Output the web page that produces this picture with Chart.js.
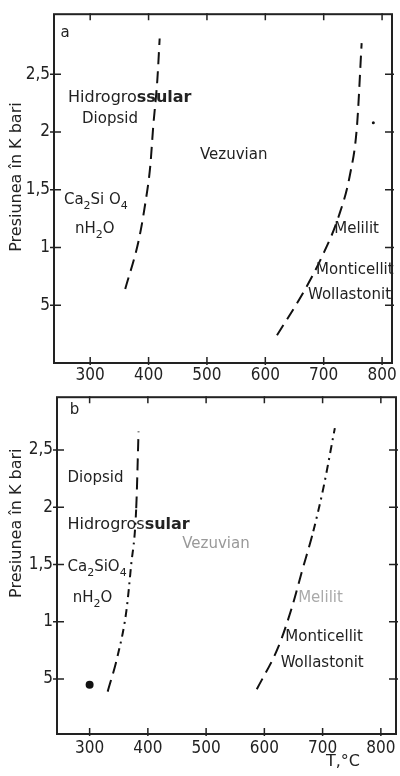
<!DOCTYPE html>
<html>
<head>
<meta charset="utf-8">
<script src="https://cdn.jsdelivr.net/npm/chart.js@4"></script>
<style>
  html, body { margin: 0; padding: 0; background: #fff; }
  #wrapA { position: absolute; left: 0; top: 0; }
  #wrapB { position: absolute; left: 0; top: 383px; }
</style>
</head>
<body>
<div id="wrapA"><canvas id="chartA" width="400" height="383"></canvas></div>
<div id="wrapB"><canvas id="chartB" width="400" height="393"></canvas></div>
<script>
// axis ticks
const xTicks = [300, 400, 500, 600, 700, 800];
const yTicks = [0.5, 1, 1.5, 2, 2.5];
const yTickLabels = ["5", "1", "1,5", "2", "2,5"];

// panel a curves (T in °C, P in kbar)
const aLeftT = [360, 383, 394, 403, 408, 415, 419];
const aLeftP = [0.64, 1.06, 1.37, 1.71, 2.05, 2.45, 2.81];
const aRightT = [620, 665, 697, 725, 745, 757, 765];
const aRightP = [0.24, 0.61, 0.92, 1.26, 1.63, 2.05, 2.77];

// panel b curves
const bLeftT = [331, 348, 363, 371, 380, 384];
const bLeftP = [0.39, 0.7, 1.09, 1.48, 1.99, 2.66];
const bRightT = [587, 624, 647, 664, 684, 701, 721];
const bRightP = [0.41, 0.78, 1.12, 1.43, 1.79, 2.16, 2.69];

// stray dots in the scan
const aDotT = [785], aDotP = [2.08];
const bDotT = [300], bDotP = [0.45];

const pts = (T, P) => T.map((t, i) => ({ x: t, y: P[i] }));

const tickFont = { family: "'Liberation Sans Narrow','DejaVu Sans Condensed','DejaVu Sans',sans-serif", size: 17 };
const textFont = "'DejaVu Sans',sans-serif";

function drawParts(ctx, x, y, parts, color, size) {
  ctx.fillStyle = color;
  ctx.textBaseline = 'middle';
  ctx.textAlign = 'left';
  parts.forEach(([s, st]) => {
    if (st === 'sub') {
      ctx.font = (size - 4) + 'px ' + textFont;
      ctx.fillText(s, x, y + 6);
    } else {
      ctx.font = (st === 'b' ? 'bold ' : '') + size + 'px ' + textFont;
      ctx.fillText(s, x, y);
    }
    x += ctx.measureText(s).width;
  });
}

const decor = {
  id: 'decor',
  afterDraw(chart, args, o) {
    const { ctx, chartArea: a, scales: { x, y } } = chart;
    ctx.save();
    ctx.strokeStyle = '#222';
    ctx.lineWidth = 2;
    ctx.strokeRect(a.left, a.top, a.right - a.left, a.bottom - a.top);
    ctx.lineWidth = 1.5;
    ctx.beginPath();
    x.ticks.forEach(t => {
      const px = x.getPixelForValue(t.value);
      ctx.moveTo(px, a.bottom + 2); ctx.lineTo(px, a.bottom - 6);
      ctx.moveTo(px, a.top - 1); ctx.lineTo(px, a.top + 6);
    });
    y.ticks.forEach(t => {
      const py = y.getPixelForValue(t.value);
      ctx.moveTo(a.left - 4, py); ctx.lineTo(a.left + 7, py);
      ctx.moveTo(a.right - 7, py); ctx.lineTo(a.right + 2, py);
    });
    ctx.stroke();

    o.labels.forEach(l => drawParts(ctx, x.getPixelForValue(l.t), y.getPixelForValue(l.p),
      l.parts, l.color || '#222', l.size || 15));

    // y axis title
    ctx.save();
    ctx.translate(17, y.getPixelForValue(o.titleP));
    ctx.rotate(-Math.PI / 2);
    ctx.font = '16px ' + textFont;
    ctx.fillStyle = '#222';
    ctx.textAlign = 'center';
    ctx.textBaseline = 'middle';
    ctx.fillText('Presiunea în K bari', 0, 0);
    ctx.restore();

    if (o.xTitle) {
      ctx.font = '16px ' + textFont;
      ctx.fillStyle = '#222';
      ctx.textAlign = 'center';
      ctx.textBaseline = 'middle';
      ctx.fillText(o.xTitle, x.getPixelForValue(o.xTitleT), chart.height - 14);
    }
    ctx.restore();
  }
};

function lineSet(T, P, dash, extra) {
  return Object.assign({
    data: pts(T, P),
    showLine: true,
    borderColor: '#111',
    borderWidth: 2,
    borderDash: dash,
    pointRadius: 0,
    cubicInterpolationMode: 'monotone',
    fill: false
  }, extra || {});
}

function dotSet(T, P, r) {
  return { data: pts(T, P), showLine: false, pointRadius: r, pointBackgroundColor: '#111', pointBorderWidth: 0 };
}

function makeChart(id, datasets, cfg) {
  return new Chart(document.getElementById(id), {
    type: 'scatter',
    data: { datasets },
    options: {
      responsive: false,
      animation: false,
      layout: { padding: cfg.padding },
      plugins: {
        legend: { display: false },
        tooltip: { enabled: false },
        decor: { labels: cfg.labels, titleP: cfg.titleP, xTitle: cfg.xTitle, xTitleT: cfg.xTitleT }
      },
      scales: {
        x: {
          type: 'linear', min: cfg.xMin, max: cfg.xMax,
          afterBuildTicks: s => { s.ticks = xTicks.map(v => ({ value: v })); },
          afterFit: s => { s.height = cfg.xHeight; },
          grid: { display: false, drawTicks: false },
          border: { display: false },
          ticks: { font: tickFont, color: '#222', padding: cfg.xPad, maxRotation: 0, autoSkip: false, callback: v => String(v) }
        },
        y: {
          type: 'linear', min: cfg.yMin, max: cfg.yMax,
          afterBuildTicks: s => { s.ticks = yTicks.map(v => ({ value: v })); },
          afterFit: s => { s.width = cfg.yWidth; },
          grid: { display: false, drawTicks: false },
          border: { display: false },
          ticks: { font: tickFont, color: '#222', padding: 4, autoSkip: false, callback: v => yTickLabels[yTicks.indexOf(v)] }
        }
      }
    },
    plugins: [decor]
  });
}

makeChart('chartA', [
  lineSet(aLeftT, aLeftP, [12, 7]),
  lineSet(aRightT, aRightP, [12, 7]),
  dotSet(aDotT, aDotP, 1.5)
], {
  xMin: 238, xMax: 817, yMin: 0, yMax: 3.02,
  padding: { top: 5, right: 8, left: 0, bottom: 0 },
  xHeight: 20, yWidth: 54, xPad: 2,
  titleP: 1.61,
  labels: [
    { t: 249, p: 2.86, parts: [['a', 'n']] },
    { t: 262, p: 2.3, parts: [['Hidrogro', 'n'], ['ssular', 'b']], size: 16 },
    { t: 286, p: 2.11, parts: [['Diopsid', 'n']] },
    { t: 488, p: 1.8, parts: [['Vezuvian', 'n']] },
    { t: 255, p: 1.41, parts: [['Ca', 'n'], ['2', 'sub'], ['Si O', 'n'], ['4', 'sub']] },
    { t: 274, p: 1.16, parts: [['nH', 'n'], ['2', 'sub'], ['O', 'n']] },
    { t: 718, p: 1.16, parts: [['Melilit', 'n']] },
    { t: 687, p: 0.8, parts: [['Monticellit', 'n']] },
    { t: 673, p: 0.585, parts: [['Wollastonit', 'n']] }
  ]
});

makeChart('chartB', [
  lineSet(bLeftT, bLeftP, [12, 7], {
    segment: { borderDash: c => (c.p0.parsed.y < 1.6 && c.p0.parsed.y > 0.6) ? [8, 5, 2, 5] : [12, 7] }
  }),
  lineSet(bRightT, bRightP, [12, 7], {
    segment: { borderDash: c => c.p0.parsed.y >= 1.6 ? [8, 5, 2, 5] : [12, 7] }
  }),
  dotSet(bDotT, bDotP, 4)
], {
  xMin: 244, xMax: 826, yMin: 0.02, yMax: 2.96,
  padding: { top: 1, right: 2, left: 0, bottom: 0 },
  xHeight: 42, yWidth: 57, xPad: 4,
  titleP: 1.86,
  xTitle: 'T,°C', xTitleT: 735,
  labels: [
    { t: 266, p: 2.845, parts: [['b', 'n']] },
    { t: 262, p: 2.25, parts: [['Diopsid', 'n']] },
    { t: 262, p: 1.85, parts: [['Hidrogros', 'n'], ['sular', 'b']], size: 16 },
    { t: 459, p: 1.68, parts: [['Vezuvian', 'n']], color: '#999' },
    { t: 262, p: 1.475, parts: [['Ca', 'n'], ['2', 'sub'], ['SiO', 'n'], ['4', 'sub']] },
    { t: 271, p: 1.21, parts: [['nH', 'n'], ['2', 'sub'], ['O', 'n']] },
    { t: 658, p: 1.21, parts: [['Melilit', 'n']], color: '#aaa' },
    { t: 636, p: 0.87, parts: [['Monticellit', 'n']] },
    { t: 628, p: 0.643, parts: [['Wollastonit', 'n']] }
  ]
});
</script>
</body>
</html>
